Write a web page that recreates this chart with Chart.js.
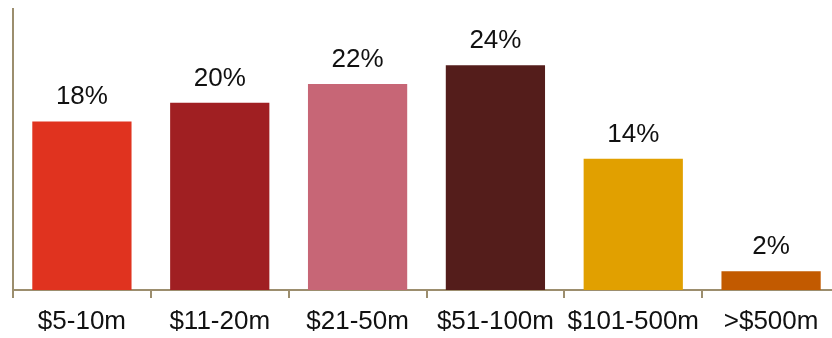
<!DOCTYPE html>
<html>
<head>
<meta charset="utf-8">
<script src="https://cdn.jsdelivr.net/npm/chart.js@4/dist/chart.umd.min.js"></script>
<style>
  html, body { margin: 0; padding: 0; background: #fff; overflow: hidden; }
  #wrap { width: 842px; height: 338px; }
</style>
</head>
<body>
<div id="wrap"><canvas id="sizeChart" width="842" height="338"></canvas></div>
<script>
const categories = ["$5-10m", "$11-20m", "$21-50m", "$51-100m", "$101-500m", ">$500m"];
const shares = [18, 20, 22, 24, 14, 2];
const barColors = ["#e0331f", "#a01f22", "#c76676", "#541d1b", "#e1a000", "#c25a00"];

const axisColor = "#9c8e6e";
const fontFamily = "'Liberation Sans', Arial, sans-serif";

// percentage labels above each bar
const valueLabels = {
  id: "valueLabels",
  afterDatasetsDraw(chart) {
    const ctx = chart.ctx;
    const meta = chart.getDatasetMeta(0);
    ctx.save();
    ctx.font = `26px ${fontFamily}`;
    ctx.fillStyle = "#111";
    ctx.textAlign = "center";
    ctx.textBaseline = "alphabetic";
    meta.data.forEach((bar, i) => {
      ctx.fillText(`${shares[i]}%`, bar.x, bar.y - 17);
    });
    ctx.restore();
  }
};

new Chart(document.getElementById("sizeChart"), {
  type: "bar",
  data: {
    labels: categories,
    datasets: [{
      data: shares,
      backgroundColor: barColors,
      categoryPercentage: 1,
      barPercentage: 0.72
    }]
  },
  options: {
    responsive: false,
    animation: false,
    layout: { padding: { top: 9, left: 12, right: 2, bottom: 0 } },
    plugins: { legend: { display: false }, tooltip: { enabled: false } },
    scales: {
      x: {
        grid: { drawOnChartArea: false, color: axisColor, lineWidth: 2, tickLength: 8, offset: true },
        border: { color: axisColor, width: 2 },
        ticks: { color: "#111", font: { family: fontFamily, size: 26 }, padding: 8, maxRotation: 0 },
        afterFit: (scale) => { scale.height = 48; }
      },
      y: {
        min: 0,
        max: 30,
        grid: { display: false },
        border: { color: axisColor, width: 2 },
        ticks: { display: false },
        afterFit: (scale) => { scale.width = 1; }
      }
    }
  },
  plugins: [valueLabels]
});
</script>
</body>
</html>
